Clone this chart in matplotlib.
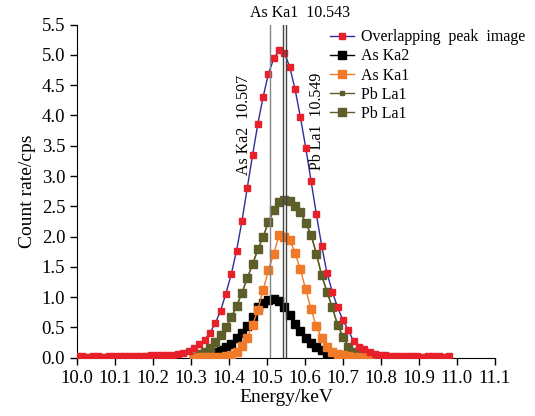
import numpy as np
import matplotlib
matplotlib.use("Agg")
import matplotlib.pyplot as plt

plt.rcParams['font.family'] = ['Liberation Serif', 'DejaVu Serif']

# energy grid (keV), evenly sampled
e_start = 10.0
e_step = 0.014
energy = np.round(e_start + e_step * np.arange(71), 3)

overlap = [0.025, 0.03, 0.02, 0.025, 0.03, 0.02, 0.025, 0.03, 0.035, 0.03, 0.025, 0.03, 0.03, 0.035,
           0.04, 0.04, 0.045, 0.045, 0.05, 0.06,
           0.08, 0.115, 0.155, 0.22, 0.30, 0.41, 0.57, 0.78, 1.06, 1.38, 1.77, 2.25, 2.80, 3.34,
           3.86, 4.31, 4.69, 4.94,
           5.08, 5.03, 4.80, 4.43, 3.97, 3.47, 2.92, 2.37, 1.85, 1.40, 1.09, 0.83, 0.62, 0.46,
           0.27, 0.17, 0.14, 0.10, 0.07,
           0.05, 0.04, 0.035, 0.03, 0.03, 0.025, 0.03, 0.025, 0.02, 0.025, 0.03, 0.025, 0.02, 0.025]

# component peaks start at grid index 22 (~10.31 keV)
comp_start = 22
as_ka2 = [0.02, 0.03, 0.045, 0.07, 0.09, 0.13, 0.17, 0.23, 0.32, 0.41, 0.52, 0.68, 0.83, 0.91,
          0.95, 0.97, 0.93, 0.84, 0.71, 0.56, 0.44, 0.33, 0.24, 0.17, 0.12, 0.08, 0.05, 0.03, 0.02]
as_ka1 = [0.0, 0.01, 0.01, 0.01, 0.02, 0.02, 0.03, 0.05, 0.10, 0.19, 0.33, 0.54, 0.79, 1.12,
          1.45, 1.72, 2.02, 2.00, 1.95, 1.73, 1.46, 1.13, 0.80, 0.52, 0.33, 0.18, 0.10, 0.06,
          0.04, 0.03, 0.02, 0.02, 0.01, 0.01]
pb_la1 = [0.02, 0.06, 0.10, 0.165, 0.26, 0.375, 0.50, 0.67, 0.85, 1.07, 1.31, 1.54, 1.79, 2.00,
          2.24, 2.44, 2.57, 2.61, 2.59, 2.51, 2.40, 2.23, 2.03, 1.72, 1.36, 1.09, 0.83, 0.54,
          0.35, 0.18, 0.09, 0.05, 0.035, 0.025, 0.02, 0.015, 0.01]

line_pos = [10.507, 10.543, 10.549]
line_col = ['#858585', '#444444', '#444444']

def comp_x(vals):
    return energy[comp_start:comp_start + len(vals)]

fig = plt.figure(figsize=(5.35, 4.16), dpi=100)
ax = fig.add_axes([0.144, 0.140, 0.781, 0.801])

ax.plot(energy, overlap, '-s', color='#2b2f9e', lw=1.0, ms=3.8,
        mfc='#e8202a', mec='#e8202a', label='Overlapping  peak  image', zorder=5)
ax.plot(comp_x(as_ka2), as_ka2, '-s', color='black', lw=1.0, ms=5.5, label='As Ka2', zorder=3)
ax.plot(comp_x(as_ka1), as_ka1, '-s', color='#f07a28', lw=1.0, ms=5.5, label='As Ka1', zorder=4)
ax.plot(comp_x(pb_la1), pb_la1, '-s', color='#5e5e2a', lw=1.0, ms=3, label='Pb La1', zorder=2)
ax.plot(comp_x(pb_la1), pb_la1, '-s', color='#5e5e2a', lw=1.0, ms=6.2, label='Pb La1', zorder=3)

for xv, c in zip(line_pos, line_col):
    ax.axvline(xv, color=c, lw=1.0, zorder=6)

ax.text(10.587, 5.69, 'As Ka1  10.543', ha='center', va='center', fontsize=11.5, clip_on=False)
ax.text(10.439, 3.85, 'As Ka2  10.507', ha='center', va='center', rotation=90, fontsize=11.5)
ax.text(10.632, 3.90, 'Pb La1  10.549', ha='center', va='center', rotation=90, fontsize=11.5)

ax.set_xlim(10.0, 11.1)
ax.set_ylim(0, 5.5)
ax.set_xticks(np.round(np.arange(10.0, 11.15, 0.1), 1))
ax.set_yticks(np.arange(0, 5.51, 0.5))
ax.xaxis.set_major_formatter(matplotlib.ticker.FormatStrFormatter('%.1f'))
ax.yaxis.set_major_formatter(matplotlib.ticker.FormatStrFormatter('%.1f'))
ax.tick_params(labelsize=13.5, direction='out', length=5, width=1)
ax.spines['top'].set_visible(False)
ax.spines['right'].set_visible(False)
ax.set_xlabel('Energy/keV', fontsize=14, labelpad=2)
ax.set_ylabel('Count rate/cps', fontsize=14, labelpad=4)

ax.legend(loc='upper left', bbox_to_anchor=(0.605, 0.945), bbox_transform=fig.transFigure,
          frameon=False, fontsize=11.5, handlelength=1.5, handletextpad=0.45,
          labelspacing=0.2, borderaxespad=0)

fig.savefig('out.png', dpi=100)
